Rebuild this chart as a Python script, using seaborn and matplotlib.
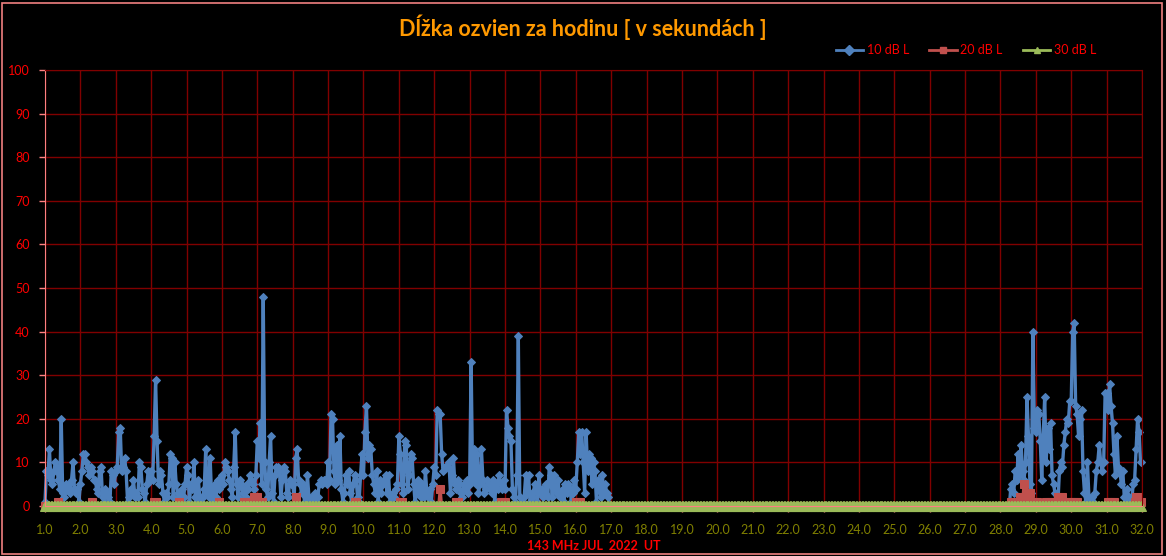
import numpy as np
import pandas as pd
import seaborn as sns
import matplotlib.pyplot as plt
from matplotlib.patches import Rectangle
from matplotlib.lines import Line2D

# texts
title_text = "Dĺžka ozvien za hodinu [ v sekundách ]"
x_label = "143 MHz JUL  2022  UT"
series_names = ["10 dB L", "20 dB L", "30 dB L"]
day_ticks = list(range(1, 33))
y_ticks = list(range(0, 101, 10))

# hourly echo length in seconds, one row = one day (00..23 UT), 1.-31. July
echo_10db = [
    1, 8, 7, 13, 6, 5, 8, 10, 9, 6, 4, 20, 3, 2, 5, 4, 5, 3, 6, 10, 4, 3, 4, 1,
    5, 8, 12, 12, 10, 9, 7, 9, 8, 6, 6, 4, 3, 8, 9, 2, 1, 4, 3, 2, 1, 8, 7, 5,
    8, 9, 17, 18, 8, 9, 11, 8, 1, 2, 4, 3, 6, 2, 3, 2, 10, 9, 4, 3, 1, 5, 8, 6,
    8, 6, 16, 29, 15, 5, 8, 7, 3, 1, 3, 2, 5, 12, 11, 2, 10, 5, 3, 2, 1, 4, 2, 5,
    9, 7, 1, 5, 4, 10, 2, 1, 6, 2, 1, 2, 4, 13, 3, 2, 11, 2, 1, 5, 2, 6, 4, 6,
    7, 5, 10, 9, 8, 6, 4, 2, 9, 17, 5, 2, 6, 5, 3, 4, 2, 5, 4, 7, 6, 5, 4, 7,
    15, 11, 19, 5, 48, 10, 4, 2, 10, 16, 3, 1, 7, 9, 9, 8, 2, 6, 9, 8, 3, 2, 6, 5,
    5, 2, 11, 13, 6, 5, 3, 5, 1, 2, 7, 2, 1, 2, 1, 3, 1, 2, 5, 6, 5, 6, 6, 5,
    10, 6, 21, 20, 8, 5, 14, 6, 16, 4, 1, 3, 7, 5, 8, 3, 1, 5, 7, 6, 2, 1, 7, 12,
    7, 17, 23, 11, 14, 13, 7, 5, 3, 8, 1, 6, 3, 5, 6, 7, 3, 7, 1, 2, 3, 2, 4, 5,
    16, 12, 5, 3, 15, 14, 4, 7, 12, 11, 5, 1, 3, 6, 4, 2, 5, 2, 8, 3, 2, 4, 1, 5,
    9, 7, 22, 21, 21, 12, 8, 9, 9, 9, 10, 3, 7, 11, 5, 4, 6, 5, 3, 2, 5, 4, 6, 3,
    5, 33, 6, 13, 5, 12, 3, 5, 13, 6, 3, 4, 6, 5, 4, 3, 6, 1, 5, 4, 7, 5, 4, 6,
    4, 22, 18, 16, 15, 4, 2, 1, 7, 39, 2, 1, 1, 2, 7, 3, 7, 1, 3, 2, 5, 4, 1, 7,
    3, 4, 2, 3, 5, 2, 9, 7, 2, 7, 4, 3, 6, 2, 3, 4, 1, 5, 3, 5, 4, 1, 3, 6,
    4, 10, 17, 12, 17, 10, 3, 17, 8, 12, 11, 5, 10, 8, 1, 6, 4, 2, 7, 3, 5, 3, 2, 0,
    0, 0, 0, 0, 0, 0, 0, 0, 0, 0, 0, 0, 0, 0, 0, 0, 0, 0, 0, 0, 0, 0, 0, 0,
    0, 0, 0, 0, 0, 0, 0, 0, 0, 0, 0, 0, 0, 0, 0, 0, 0, 0, 0, 0, 0, 0, 0, 0,
    0, 0, 0, 0, 0, 0, 0, 0, 0, 0, 0, 0, 0, 0, 0, 0, 0, 0, 0, 0, 0, 0, 0, 0,
    0, 0, 0, 0, 0, 0, 0, 0, 0, 0, 0, 0, 0, 0, 0, 0, 0, 0, 0, 0, 0, 0, 0, 0,
    0, 0, 0, 0, 0, 0, 0, 0, 0, 0, 0, 0, 0, 0, 0, 0, 0, 0, 0, 0, 0, 0, 0, 0,
    0, 0, 0, 0, 0, 0, 0, 0, 0, 0, 0, 0, 0, 0, 0, 0, 0, 0, 0, 0, 0, 0, 0, 0,
    0, 0, 0, 0, 0, 0, 0, 0, 0, 0, 0, 0, 0, 0, 0, 0, 0, 0, 0, 0, 0, 0, 0, 0,
    0, 0, 0, 0, 0, 0, 0, 0, 0, 0, 0, 0, 0, 0, 0, 0, 0, 0, 0, 0, 0, 0, 0, 0,
    0, 0, 0, 0, 0, 0, 0, 0, 0, 0, 0, 0, 0, 0, 0, 0, 0, 0, 0, 0, 0, 0, 0, 0,
    0, 0, 0, 0, 0, 0, 0, 0, 0, 0, 0, 0, 0, 0, 0, 0, 0, 0, 0, 0, 0, 0, 0, 0,
    0, 0, 0, 0, 0, 0, 0, 0, 0, 0, 0, 0, 0, 0, 0, 0, 0, 0, 0, 0, 0, 0, 0, 0,
    0, 0, 0, 0, 0, 0, 0, 4, 5, 3, 8, 6, 12, 7, 14, 8, 6, 10, 25, 16, 5, 3, 40, 18,
    17, 22, 21, 15, 6, 16, 25, 10, 18, 13, 19, 7, 5, 3, 0, 1, 8, 10, 9, 14, 17, 20, 19, 24,
    24, 40, 42, 23, 21, 16, 20, 22, 8, 3, 1, 10, 2, 1, 2, 1, 3, 8, 10, 14, 10, 8, 10, 26,
    26, 22, 28, 23, 19, 12, 7, 16, 9, 8, 5, 8, 2, 1, 4, 2, 0, 1, 5, 6, 13, 20, 17, 10,
]

echo_20db = [
    0, 0, 0, 0, 0, 0, 0, 0, 0, 1, 0, 0, 0, 0, 0, 0, 0, 0, 0, 0, 0, 0, 0, 0,
    0, 0, 0, 0, 0, 0, 0, 0, 1, 0, 0, 0, 0, 0, 0, 0, 0, 0, 0, 0, 0, 0, 0, 0,
    0, 0, 0, 0, 0, 0, 0, 0, 0, 0, 0, 0, 0, 0, 0, 0, 0, 0, 0, 0, 0, 0, 0, 0,
    0, 0, 1, 1, 0, 0, 0, 0, 0, 0, 0, 0, 0, 0, 0, 0, 0, 0, 0, 1, 0, 0, 0, 0,
    0, 0, 0, 0, 0, 0, 0, 0, 0, 0, 0, 0, 0, 0, 0, 0, 0, 0, 0, 0, 0, 0, 1, 0,
    0, 0, 0, 0, 0, 0, 0, 0, 0, 0, 0, 0, 0, 0, 0, 1, 1, 1, 1, 0, 0, 0, 2, 2,
    2, 1, 1, 1, 0, 0, 0, 0, 0, 0, 0, 0, 0, 0, 0, 0, 0, 0, 0, 0, 0, 0, 0, 0,
    0, 0, 2, 0, 0, 0, 0, 0, 0, 0, 0, 0, 0, 0, 0, 0, 0, 0, 0, 0, 0, 0, 0, 0,
    0, 0, 0, 0, 0, 0, 0, 0, 0, 0, 0, 0, 0, 0, 0, 0, 0, 0, 1, 1, 0, 0, 0, 0,
    0, 0, 0, 0, 0, 0, 0, 0, 0, 0, 0, 0, 0, 0, 0, 0, 0, 0, 0, 0, 0, 0, 0, 0,
    0, 1, 1, 0, 0, 0, 0, 0, 0, 0, 0, 0, 0, 0, 0, 0, 0, 0, 0, 0, 0, 0, 0, 0,
    0, 0, 0, 0, 4, 0, 0, 0, 0, 0, 0, 0, 0, 0, 0, 1, 1, 0, 0, 0, 0, 0, 0, 0,
    0, 0, 0, 0, 0, 0, 0, 0, 0, 0, 0, 0, 0, 0, 0, 0, 0, 0, 0, 0, 0, 1, 1, 1,
    1, 0, 0, 0, 0, 0, 0, 0, 0, 0, 0, 0, 0, 0, 0, 0, 0, 0, 0, 0, 0, 0, 0, 0,
    0, 0, 0, 0, 0, 0, 0, 0, 0, 0, 0, 0, 0, 0, 0, 0, 0, 0, 0, 0, 0, 0, 0, 0,
    1, 1, 1, 1, 0, 0, 0, 0, 0, 0, 0, 0, 0, 0, 0, 0, 0, 0, 0, 0, 0, 0, 0, 0,
    0, 0, 0, 0, 0, 0, 0, 0, 0, 0, 0, 0, 0, 0, 0, 0, 0, 0, 0, 0, 0, 0, 0, 0,
    0, 0, 0, 0, 0, 0, 0, 0, 0, 0, 0, 0, 0, 0, 0, 0, 0, 0, 0, 0, 0, 0, 0, 0,
    0, 0, 0, 0, 0, 0, 0, 0, 0, 0, 0, 0, 0, 0, 0, 0, 0, 0, 0, 0, 0, 0, 0, 0,
    0, 0, 0, 0, 0, 0, 0, 0, 0, 0, 0, 0, 0, 0, 0, 0, 0, 0, 0, 0, 0, 0, 0, 0,
    0, 0, 0, 0, 0, 0, 0, 0, 0, 0, 0, 0, 0, 0, 0, 0, 0, 0, 0, 0, 0, 0, 0, 0,
    0, 0, 0, 0, 0, 0, 0, 0, 0, 0, 0, 0, 0, 0, 0, 0, 0, 0, 0, 0, 0, 0, 0, 0,
    0, 0, 0, 0, 0, 0, 0, 0, 0, 0, 0, 0, 0, 0, 0, 0, 0, 0, 0, 0, 0, 0, 0, 0,
    0, 0, 0, 0, 0, 0, 0, 0, 0, 0, 0, 0, 0, 0, 0, 0, 0, 0, 0, 0, 0, 0, 0, 0,
    0, 0, 0, 0, 0, 0, 0, 0, 0, 0, 0, 0, 0, 0, 0, 0, 0, 0, 0, 0, 0, 0, 0, 0,
    0, 0, 0, 0, 0, 0, 0, 0, 0, 0, 0, 0, 0, 0, 0, 0, 0, 0, 0, 0, 0, 0, 0, 0,
    0, 0, 0, 0, 0, 0, 0, 0, 0, 0, 0, 0, 0, 0, 0, 0, 0, 0, 0, 0, 0, 0, 0, 0,
    0, 0, 0, 0, 0, 0, 0, 1, 1, 0, 0, 0, 0, 2, 2, 1, 5, 3, 1, 3, 3, 1, 1, 1,
    1, 1, 0, 0, 0, 0, 0, 1, 1, 1, 1, 0, 0, 0, 0, 2, 2, 2, 2, 0, 0, 0, 1, 1,
    1, 1, 1, 1, 1, 0, 0, 0, 0, 0, 0, 0, 0, 0, 0, 0, 0, 0, 0, 0, 0, 0, 0, 0,
    0, 1, 1, 1, 1, 1, 0, 0, 0, 0, 0, 0, 0, 0, 0, 0, 0, 0, 0, 1, 2, 2, 1, 1,
]

# 30 dB L had no echoes during the whole month
echo_30db = [0] * len(echo_10db)

hours = np.arange(len(echo_10db))
df = pd.DataFrame({
    "den": 1 + hours / 24,
    "10 dB L": echo_10db,
    "20 dB L": echo_20db,
    "30 dB L": echo_30db,
})
long_df = df.melt(id_vars="den", var_name="serie", value_name="sekundy")

plt.rcParams["font.family"] = ["Lato", "DejaVu Sans"]

colors = {"10 dB L": "#4F81BD", "20 dB L": "#C0504D", "30 dB L": "#9BBB59"}
markers = {"10 dB L": "D", "20 dB L": "s", "30 dB L": "^"}
msizes = {"10 dB L": 4.2, "20 dB L": 5.5, "30 dB L": 6.5}
lwidths = {"10 dB L": 2.4, "20 dB L": 2.2, "30 dB L": 2.6}

fig = plt.figure(figsize=(11.66, 5.56), dpi=100, facecolor="black")
ax = fig.add_axes([45 / 1166, 50 / 556, 1097 / 1166, 436 / 556])
ax.set_facecolor("black")
ax.set_axisbelow(True)

handles = []
for name in series_names:
    sub = long_df[long_df["serie"] == name]
    sns.lineplot(data=sub, x="den", y="sekundy", ax=ax, color=colors[name],
                 marker=markers[name], markersize=msizes[name],
                 markeredgecolor=colors[name], linewidth=lwidths[name],
                 estimator=None, sort=False, clip_on=False)
    handles.append(Line2D([], [], color=colors[name], marker=markers[name],
                          markersize=5, markeredgecolor=colors[name],
                          linewidth=2))

ax.set_xlim(1, 32)
ax.set_ylim(0, 100)
ax.set_xticks(day_ticks)
ax.set_xticklabels([f"{d:.1f}" for d in day_ticks], color="#808000", fontsize=9)
ax.set_yticks(y_ticks)
ax.set_yticklabels([str(v) for v in y_ticks], color="#FF0000", fontsize=9)
ax.tick_params(axis="both", colors="#FF8080", length=4, width=1)
ax.tick_params(axis="x", labelcolor="#808000", pad=9)
ax.tick_params(axis="y", labelcolor="#FF0000", pad=7)
ax.grid(True, color="#800000", linewidth=1)
ax.set_xlabel("")
ax.set_ylabel("")
for side in ["left", "bottom"]:
    ax.spines[side].set_color("#FF8080")
for side in ["top", "right"]:
    ax.spines[side].set_color("#800000")

fig.text(0.5, 1 - 27 / 556, title_text, ha="center", va="center",
         color="#FF9900", fontsize=15.5, fontweight="bold")
fig.text(594 / 1166, 1 - 546 / 556, x_label, ha="center", va="center",
         color="#FF0000", fontsize=9, fontweight="bold")

fig.legend(handles, series_names, loc="center", bbox_to_anchor=(966 / 1166, 1 - 50 / 556),
           ncol=3, frameon=False, fontsize=9, labelcolor="#FF0000",
           handlelength=2.2, columnspacing=1.6, handletextpad=0.3)

fig.patches.append(Rectangle((2 / 1166, 2 / 556), 1160 / 1166, 551 / 556,
                             transform=fig.transFigure, fill=False,
                             edgecolor="#F08080", linewidth=1.2))

fig.savefig("out.png", dpi=100, facecolor="black")
